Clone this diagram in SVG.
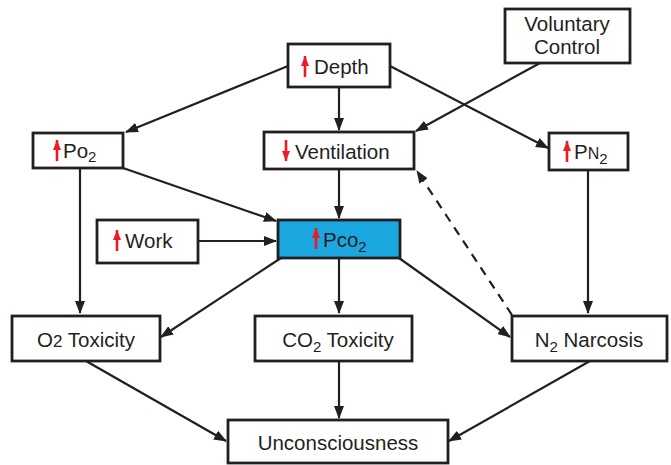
<svg xmlns="http://www.w3.org/2000/svg" width="671" height="465" viewBox="0 0 671 465">
<defs>
<marker id="ah" viewBox="0 0 13 10" refX="12" refY="5" markerWidth="13" markerHeight="10" markerUnits="userSpaceOnUse" orient="auto">
<path d="M0,0 L13,5 L0,10 Z" fill="#231f20"/>
</marker>
<marker id="rhu" viewBox="0 0 8 10" refX="4" refY="0" markerWidth="8" markerHeight="10" markerUnits="userSpaceOnUse" orient="0">
<path d="M0,10 L4,0 L8,10 Z" fill="#ed1c24"/>
</marker>
<marker id="rhd" viewBox="0 0 8 10" refX="4" refY="10" markerWidth="8" markerHeight="10" markerUnits="userSpaceOnUse" orient="0">
<path d="M0,0 L4,10 L8,0 Z" fill="#ed1c24"/>
</marker>
</defs>
<style>
.box{fill:#fff;stroke:#231f20;stroke-width:2.8}
.blue{fill:#1ba7df;stroke:#231f20;stroke-width:2.8}
.t{font-family:"Liberation Sans",Arial,sans-serif;font-size:20.5px;fill:#231f20}
.sub{font-size:15px}
.c{stroke:#231f20;stroke-width:2.2;fill:none;marker-end:url(#ah)}
.d{stroke-dasharray:9,7}
.up{stroke:#ed1c24;stroke-width:2.6;marker-start:url(#rhu)}
.dn{stroke:#ed1c24;stroke-width:2.6;marker-end:url(#rhd)}
</style>

<g id="connectors">
<line class="c" x1="288" y1="66" x2="126" y2="132"/>
<line class="c" x1="339" y1="87" x2="339" y2="130"/>
<line class="c" x1="390" y1="66" x2="548" y2="148"/>
<line class="c" x1="540" y1="63" x2="416" y2="131"/>
<line class="c" x1="123" y1="168" x2="276" y2="221"/>
<line class="c" x1="339" y1="169" x2="339" y2="218"/>
<line class="c" x1="198" y1="241" x2="276" y2="241"/>
<line class="c" x1="281" y1="258" x2="161" y2="337"/>
<line class="c" x1="339" y1="258" x2="339" y2="313"/>
<line class="c" x1="399" y1="258" x2="510" y2="337"/>
<line class="c d" x1="512" y1="315" x2="417" y2="171"/>
<line class="c" x1="588" y1="170" x2="588" y2="313"/>
<line class="c" x1="80" y1="168" x2="80" y2="313"/>
<line class="c" x1="86" y1="361" x2="226" y2="441"/>
<line class="c" x1="339" y1="361" x2="339" y2="418"/>
<line class="c" x1="590" y1="361" x2="449" y2="441"/>
</g>

<g id="depth">
<rect class="box" x="288" y="44" width="102" height="43"/>
<line class="up" x1="305" y1="56" x2="305" y2="77"/>
<text class="t" x="314" y="74">Depth</text>
</g>

<g id="voluntary">
<rect class="box" x="505" y="9" width="125" height="54"/>
<text class="t" x="567" y="31" text-anchor="middle">Voluntary</text>
<text class="t" x="567" y="54" text-anchor="middle">Control</text>
</g>

<g id="po2">
<rect class="box" x="33" y="133" width="90" height="35"/>
<line class="up" x1="57" y1="140" x2="57" y2="161"/>
<text class="t" x="63" y="158">Po<tspan class="sub" dy="4">2</tspan></text>
</g>

<g id="ventilation">
<rect class="box" x="264" y="132" width="150" height="37"/>
<line class="dn" x1="286" y1="140" x2="286" y2="161"/>
<text class="t" x="295" y="159">Ventilation</text>
</g>

<g id="pn2">
<rect class="box" x="549" y="133" width="79" height="37"/>
<line class="up" x1="567" y1="141" x2="567" y2="162"/>
<text class="t" x="574" y="159">P<tspan style="font-size:16px">N</tspan><tspan class="sub" dy="5">2</tspan></text>
</g>

<g id="work">
<rect class="box" x="97" y="220" width="101" height="43"/>
<line class="up" x1="117" y1="230" x2="117" y2="251"/>
<text class="t" x="125" y="248">Work</text>
</g>

<g id="pco2">
<rect class="blue" x="278" y="220" width="122" height="38"/>
<line class="up" x1="316" y1="228" x2="316" y2="249"/>
<text class="t" x="323" y="247">Pco<tspan class="sub" dy="5">2</tspan></text>
</g>

<g id="o2tox">
<rect class="box" x="12" y="316" width="148" height="45"/>
<text class="t" x="86" y="347" text-anchor="middle">O<tspan style="font-size:17px">2</tspan> Toxicity</text>
</g>

<g id="co2tox">
<rect class="box" x="255" y="316" width="157" height="45"/>
<text class="t" x="338" y="347" text-anchor="middle">CO<tspan class="sub" dy="5">2</tspan><tspan dy="-5"> Toxicity</tspan></text>
</g>

<g id="n2narc">
<rect class="box" x="512" y="316" width="155" height="45"/>
<text class="t" x="589" y="347" text-anchor="middle">N<tspan class="sub" dy="5">2</tspan><tspan dy="-5"> Narcosis</tspan></text>
</g>

<g id="uncon">
<rect class="box" x="228" y="420" width="220" height="43"/>
<text class="t" x="338" y="450" text-anchor="middle">Unconsciousness</text>
</g>
</svg>
